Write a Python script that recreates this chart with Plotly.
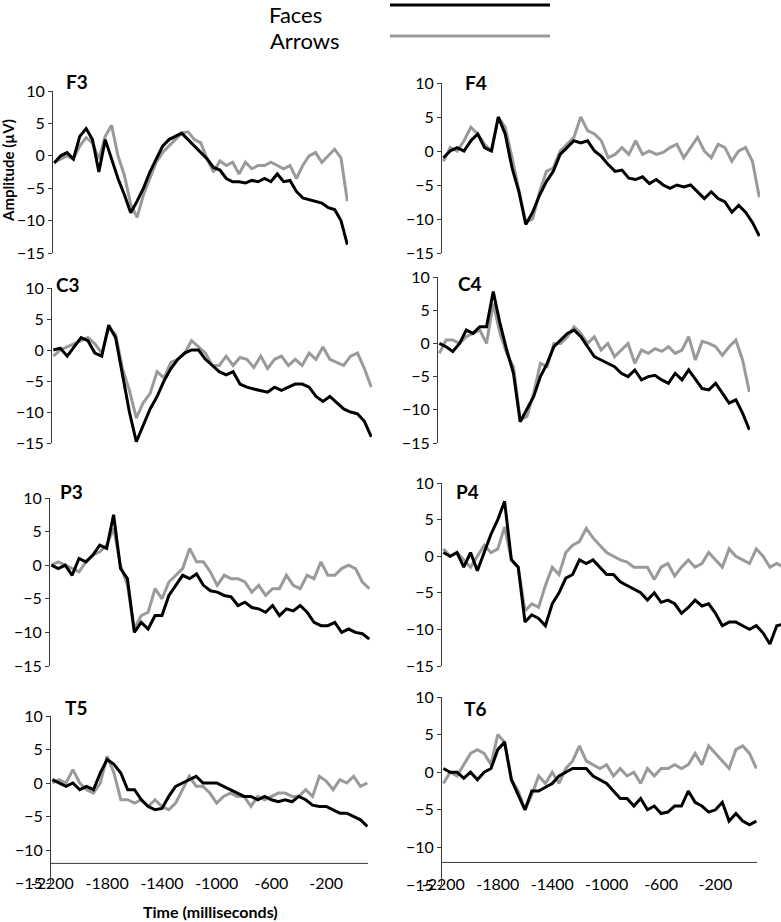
import plotly.graph_objects as go

W, H = 781, 922

# ---------------- data ----------------
TIMES = list(range(-2200, 101, 50))      # ms
TIMES_P4 = list(range(-2200, 301, 50))   # P4 trace runs past the right edge

F3_FACES = [-1.1, 0, 0.5, -0.5, 3, 4.2, 2.5, -2.5, 2.5, -0.5, -3.5, -6, -8.8, -7, -5, -2.5, -0.5, 1.5, 2.5, 3,
            3.5, 2.5, 1.5, 0.5, -0.5, -1.8, -2.2, -3.5, -4, -4, -4.2, -3.8, -4, -3.5, -4, -2.8, -4, -3.8, -5.5, -6.5,
            -6.8, -7, -7.3, -8, -8.3, -10, -13.7]
F3_ARROWS = [-1, -0.5, 0, -0.5, 1.5, 2.8, 2, -0.5, 3, 4.7, 0, -3, -7.5, -9.5, -6, -3.5, -1, 0.5, 1.5, 2.5,
             3.5, 3.7, 2.5, 2, -0.5, -2.5, -0.8, -1.5, -1, -2.8, -1, -2, -1.5, -1.5, -1, -1.5, -2, -1.5, -3.5, -1.5,
             0, 0.5, -1, 0, 1, -0.3, -7]
F4_FACES = [-1, 0, 0.5, 0, 1.5, 2.5, 0.5, 0, 5.0, 2.5, -2.5, -6, -10.8, -9, -6.5, -4.5, -3, -0.5, 0.5, 1.5,
            1.2, 1.5, 0, -0.8, -2, -3, -2.8, -4, -4.2, -3.8, -4.8, -4.2, -5, -5.5, -5, -5.3, -5, -6, -7, -6,
            -7, -7.5, -9, -8, -9, -10.5, -12.5]
F4_ARROWS = [-1.5, 0.5, 0, 1.5, 3.5, 2.5, 1, 0, 5, 3.5, -1, -5.5, -10.5, -10, -6, -3, -2.5, 0, 1, 2,
             5, 3, 2.5, 1.5, -1, -0.5, 0.5, -0.5, 1.5, -0.5, 0, -0.5, -0.2, 0.5, 1, -1, 0.5, 2, 0, -1,
             1, 0.5, -1.5, 0, 0.5, -1.5, -6.8]
C3_FACES = [0, 0.3, -1.0, 0.5, 2, 1.5, -0.5, -1, 4.0, 2, -4, -10, -14.8, -12, -9.5, -7.5, -5, -3, -1.5, -0.5,
            0, 0, -1.5, -2.5, -3.5, -4, -3.5, -5.5, -6, -6.3, -6.5, -6.8, -6, -6.5, -6, -5.5, -5.5, -6, -7.5, -8.3,
            -7.5, -8.5, -9.5, -10, -10.3, -11.5, -14]
C3_ARROWS = [-1, 0, 0.5, 1, 1.5, 2, 1, -0.5, 3.5, 2.5, -3, -6.5, -11, -8.5, -7, -3.5, -4.5, -2, -1.5, -0.5,
             1.5, 0.5, -0.5, -2.5, -2.5, -1, -2.5, -1.2, -1.5, -2.8, -1, -3, -1.5, -1, -2.5, -1.5, -2.5, -0.5, -1.5, 0.5,
             -1.5, -2, -2.5, -1, -0.5, -3, -6]
C4_FACES = [0, -0.5, -1.2, 0, 2, 1.5, 2.5, 2.5, 7.8, 3, -1, -4.5, -11.8, -10, -8, -5, -3, -0.5, 0.5, 1.5,
            2, 1, -0.5, -2, -2.5, -3, -3.5, -4.5, -5, -4, -5.5, -5, -4.8, -5.5, -6, -4.5, -5.5, -4, -5.5, -6.8,
            -7, -6, -7.5, -9, -8.5, -10.5, -13]
C4_ARROWS = [-1.5, 0.5, 0.5, 0, 1, 1.5, 2, 0, 6, 1.5, -1.5, -3.5, -11.5, -11, -7.5, -3, -3.5, 0, 0, 1,
             2.5, 1.5, 0, 1, -1, 0, -2, -1, 0, -3, -1, -1.5, -0.8, -1.2, -0.5, -1.5, -1, 1, -2.5, 0.3,
             0, -0.5, -1.8, -0.5, 0.5, -2.5, -7.3]
P3_FACES = [0, -0.5, 0, -1.5, 1, 0.5, 1.5, 3, 2.5, 7.5, -0.5, -2, -10, -8.5, -9.5, -7.5, -7.5, -4.5, -3, -1.5,
            -2, -1.3, -3, -3.8, -4, -4.5, -4.7, -6, -5.5, -6.3, -6.5, -7, -6, -7.5, -6.5, -6.8, -6, -7, -8.5, -9,
            -9, -8.5, -10, -9.5, -10, -10.2, -11]
P3_ARROWS = [0, 0.5, 0, -0.5, -1, 0.5, 1.5, 2, 3, 5.5, 0, -3, -9.5, -7.5, -7, -3.5, -5, -2.5, -1.5, -0.5,
             2.5, 0.5, 0.5, -1, -3, -1.5, -2, -2, -2.5, -4, -3, -4.5, -3.5, -3.5, -1.5, -3, -3.5, -1.5, -2, 0.5,
             -1.5, -1.5, -0.5, 0, -0.5, -2.5, -3.5]
P4_FACES = [0.5, 0, 0.5, -1.5, 0.5, -2, 0.5, 3, 5, 7.5, -0.5, -1.5, -9, -8, -8.5, -9.5, -6.5, -5, -3, -2.5,
            -0.5, -1, -0.5, -1.5, -2.5, -2.5, -3.5, -4, -4.5, -5, -6, -5, -6.3, -6, -6.5, -7.8, -7, -6, -6.8, -6.5,
            -7.8, -9.5, -9, -9, -9.5, -10, -9.5, -10.5, -12, -9.5, -9.3]
P4_ARROWS = [1, 0, 0.5, -0.5, -1.5, 0, 1.5, 0.5, 1, 4, -0.5, -1.5, -7.5, -6.5, -7, -4, -1.5, -2.5, 0.5, 1.5,
             2, 3.8, 2.5, 1.5, 0.5, 0, -0.5, -0.8, -1.5, -1.5, -1.5, -3.2, -1.5, -1, -2.7, -1.5, -0.5, -1.5, -1, 0.5,
             -0.5, -1.5, 1, 0, -0.5, -1, 1, 0, -1.5, -1, -1.5]
T5_FACES = [0.5, 0, -0.5, 0, -1, -0.5, -1, 1.5, 3.5, 2.8, 1.5, -1, -1, -2.5, -3.5, -4, -3.8, -2, -0.5, 0,
            0.5, 1, 0, 0, 0, -0.5, -1, -1.5, -2, -2, -2.5, -2, -2.5, -2.8, -2.5, -2.8, -2, -2.5, -3.3, -3.5,
            -3.5, -4, -4.5, -4.5, -5, -5.5, -6.5]
T5_ARROWS = [0, 0.5, 0, 2, 0, -1, -1.5, 0, 4, 1.5, -2.5, -2.5, -3, -2.5, -3.5, -2.5, -3.5, -4, -3, -1,
             1, -0.5, -0.5, -1.5, -3, -2, -1.5, -2, -2, -3.5, -2, -2.5, -2, -1.5, -1.5, -2, -2, -1, -2, 1,
             0.3, -1, 0.5, 0, 1, -0.5, 0]
T6_FACES = [0.5, 0, 0, -0.8, 0, -1, 0, 0.5, 3, 4, -1, -3, -5, -2.5, -2.5, -2, -1.5, -0.5, 0, 0.5,
            0.5, 0.5, -0.5, -1, -1.5, -2.5, -3.5, -3.5, -4.5, -3.5, -5, -4.5, -5.5, -5.3, -4.5, -4.5, -2.5, -4, -4.5, -5.3,
            -5, -4, -6.5, -5.5, -6.5, -7, -6.5]
T6_ARROWS = [-1.5, 0, -0.5, 1, 2.5, 3, 2.5, 1, 5, 4, -1, -2.5, -5, -3, -0.5, -1.5, 0, -1.5, 0.5, 1.5,
             3.5, 1.5, 1, 0.5, 1, -0.5, 0.5, -0.5, 0, -1.5, 0.5, -0.5, 0.5, 0.5, 1, 0.5, 1, 2.5, 1, 3.5,
             2.5, 1.5, 0.5, 3, 3.5, 2.5, 0.5]

Y_TICKS = [-15, -10, -5, 0, 5, 10]
X_TICKS = [-2200, -1800, -1400, -1000, -600, -200]
SERIES_NAMES = ["Faces", "Arrows"]
PANEL_NAMES = ["F3", "F4", "C3", "C4", "P3", "P4", "T5", "T6"]

PANEL_DATA = {
    "F3": (TIMES, F3_FACES, F3_ARROWS),
    "F4": (TIMES, F4_FACES, F4_ARROWS),
    "C3": (TIMES, C3_FACES, C3_ARROWS),
    "C4": (TIMES, C4_FACES, C4_ARROWS),
    "P3": (TIMES, P3_FACES, P3_ARROWS),
    "P4": (TIMES_P4, P4_FACES, P4_ARROWS),
    "T5": (TIMES, T5_FACES, T5_ARROWS),
    "T6": (TIMES, T6_FACES, T6_ARROWS),
}

# ---------------- layout (pixel boxes: left, right, top(y=10), bottom(y=-15)) ----------------
BOXES = {
    "F3": (53, 348, 91, 253),
    "F4": (442, 760, 83, 253),
    "C3": (52, 372, 288, 443),
    "C4": (438, 750, 277, 443),
    "P3": (50, 370, 498, 666),
    "P4": (442, 781, 483, 666),
    "T5": (51, 368, 716, 883.5),
    "T6": (442, 757, 697, 885),
}
LABEL_POS = {
    "F3": (77, 82), "F4": (476, 83), "C3": (68, 284), "C4": (470, 283),
    "P3": (71, 491), "P4": (467, 491), "T5": (76, 707), "T6": (475, 708),
}
X_RANGE = [-2210, 105]
BOTTOM = {"T5", "T6"}
FONT = "Lato, Open Sans, sans-serif"
BLACK = "#000000"
GRAY = "#9a9a9a"
AXIS = "#3a3a3a"


def px(x):
    return x / W


def py(y):
    return 1 - y / H


fig = go.Figure()
layout = {}
shapes = []
annotations = []

for i, name in enumerate(PANEL_NAMES, start=1):
    t, faces, arrows = PANEL_DATA[name]
    l, r, top, bot = BOXES[name]
    xa = "x" if i == 1 else f"x{i}"
    ya = "y" if i == 1 else f"y{i}"
    fig.add_trace(go.Scatter(x=t, y=arrows, mode="lines", name=SERIES_NAMES[1],
                             line=dict(color=GRAY, width=3), showlegend=False,
                             xaxis=xa, yaxis=ya))
    fig.add_trace(go.Scatter(x=t, y=faces, mode="lines", name=SERIES_NAMES[0],
                             line=dict(color=BLACK, width=3), showlegend=False,
                             xaxis=xa, yaxis=ya))
    xr = list(X_RANGE)
    if name == "P4":
        scale = (757 - 442) / (X_RANGE[1] - X_RANGE[0])
        xr = [X_RANGE[0], X_RANGE[0] + (r - l) / scale]
    xkey = "xaxis" if i == 1 else f"xaxis{i}"
    ykey = "yaxis" if i == 1 else f"yaxis{i}"
    xdict = dict(domain=[px(l), min(1.0, px(r))], range=xr, anchor=ya, automargin=False,
                 showgrid=False, zeroline=False, showline=False, fixedrange=True)
    if name in BOTTOM:
        xdict.update(tickvals=X_TICKS, ticktext=[str(v) for v in X_TICKS], ticks="",
                     tickfont=dict(family=FONT, size=16, color="black"),
                     ticklabelstandoff=-12)
        shapes.append(dict(type="line", xref=f"{xa} domain", yref=ya, x0=0, x1=1,
                           y0=-12, y1=-12, line=dict(color=AXIS, width=1)))
    else:
        xdict.update(showticklabels=False, ticks="")
    layout[xkey] = xdict
    layout[ykey] = dict(domain=[py(bot), py(top)], range=[-15, 10], anchor=xa, automargin=False,
                        showgrid=False, zeroline=False, showline=True,
                        linecolor=AXIS, linewidth=1, ticks="outside", ticklen=4,
                        tickcolor=AXIS, tickvals=Y_TICKS,
                        tickfont=dict(family=FONT, size=16, color="black"),
                        fixedrange=True)
    lx, ly = LABEL_POS[name]
    annotations.append(dict(text=f"<b>{name}</b>", x=px(lx), y=py(ly), xref="paper", yref="paper",
                            showarrow=False, xanchor="center", yanchor="middle",
                            font=dict(family=FONT, size=19, color="black")))

# manual legend
annotations.append(dict(text=SERIES_NAMES[0], x=px(268), y=1.0, xref="paper", yref="paper",
                        showarrow=False, xanchor="left", yanchor="top", borderpad=0,
                        font=dict(family=FONT, size=22, color="black")))
annotations.append(dict(text=SERIES_NAMES[1], x=px(268), y=py(41), xref="paper", yref="paper",
                        showarrow=False, xanchor="left", yanchor="middle",
                        font=dict(family=FONT, size=22, color="black")))
shapes.append(dict(type="line", xref="paper", yref="paper", x0=px(390), x1=px(550),
                   y0=py(5), y1=py(5), line=dict(color=BLACK, width=3)))
shapes.append(dict(type="line", xref="paper", yref="paper", x0=px(390), x1=px(550),
                   y0=py(36), y1=py(36), line=dict(color=GRAY, width=3)))

# axis titles
annotations.append(dict(text="<b>Amplitude (µV)</b>", x=px(8), y=py(171), xref="paper", yref="paper",
                        showarrow=False, textangle=-90, xanchor="center", yanchor="middle",
                        font=dict(family=FONT, size=15, color="black")))
annotations.append(dict(text="<b>Time (milliseconds)</b>", x=px(210), y=py(911), xref="paper", yref="paper",
                        showarrow=False, xanchor="center", yanchor="middle",
                        font=dict(family=FONT, size=16, color="black")))

fig.update_layout(width=W, height=H, autosize=False, template="none",
                  margin=dict(l=0, r=0, t=0, b=0, pad=0),
                  paper_bgcolor="white", plot_bgcolor="white",
                  showlegend=False, shapes=shapes, annotations=annotations,
                  **layout)

fig.write_html("out.html",
               config={"displayModeBar": False, "staticPlot": True},
               post_script="document.body.style.margin='0';document.body.style.padding='0';"
                           "document.body.style.overflow='hidden';")
